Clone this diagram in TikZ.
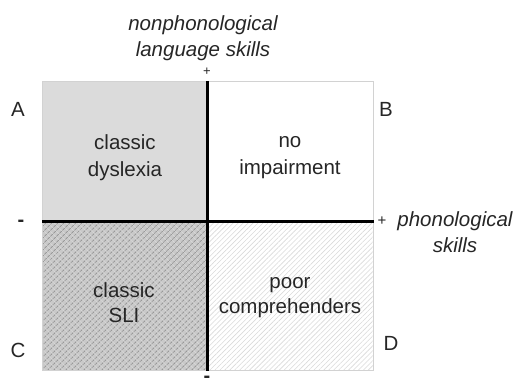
\documentclass[tikz,border=0pt]{standalone}
\usepackage{fontspec}
\setmainfont{Liberation Sans}
\usepackage{tikz}
\usetikzlibrary{patterns.meta}

\tikzset{
  lbl/.style={font=\fontsize{20.5}{25}\selectfont, text=black!85, align=center, inner sep=0pt},
  axlbl/.style={lbl, font=\fontsize{20.5}{26}\selectfont\itshape},
  sign/.style={font=\fontsize{13}{13}\selectfont, text=black!85, inner sep=0pt},
  dashsign/.style={font=\fontsize{20}{20}\selectfont\bfseries, text=black!85, inner sep=0pt, anchor=base},
  axis/.style={line width=3pt, black},
}

\begin{document}
\begin{tikzpicture}[x=1pt,y=-1pt]
\useasboundingbox (0,0) rectangle (515,387);
% quadrants
\fill[gray!28] (42,81) rectangle (207,222);
\fill[gray!42] (42,222) rectangle (207,370);
\pattern[pattern={Lines[angle=45,distance=4pt,line width=1pt]}, pattern color=gray!80] (42,222) rectangle (207,370);
\pattern[pattern={Lines[angle=-45,distance=4pt,line width=0.5pt]}, pattern color=gray!25] (42,222) rectangle (207,370);
\pattern[pattern={Lines[angle=45,distance=3.5pt,line width=0.6pt]}, pattern color=gray!30] (207,222) rectangle (373,370);
\draw[gray!35, line width=0.8pt] (42,81) rectangle (373,370);
% axes
\coordinate (top) at (207,81);
\coordinate (bot) at (207,371);
\coordinate (lft) at (42,222);
\coordinate (rgt) at (374,222);
\draw[axis] (top) -- (bot);
\draw[axis] (lft) -- (rgt);
% axis labels
\node[axlbl] (ylab) at (203,38) {nonphonological\\language skills};
\node[sign] (yplus) at (207,72) {+};
\node[dashsign] (yminus) at (207,383) {-};
\node[dashsign] (xminus) at (21,227) {-};
\node[sign, font=\fontsize{15}{15}\selectfont] (xplus) at (382,221) {+};
\node[axlbl] (xlab) at (455,232) {phonological\\skills};
% corner letters
\node[lbl] (A) at (18,109) {A};
\node[lbl] (B) at (386,109) {B};
\node[lbl] (C) at (18,350) {C};
\node[lbl] (D) at (391,343) {D};
% quadrant texts
\node[lbl, font=\fontsize{20.5}{27}\selectfont] (dys) at (125,158) {classic\\dyslexia};
\node[lbl, font=\fontsize{20.5}{27}\selectfont] (noimp) at (290,158) {no\\impairment};
\node[lbl] (sli) at (124,303) {classic\\SLI};
\node[lbl] (poor) at (290,298) {poor\\comprehenders};
\end{tikzpicture}
\end{document}
